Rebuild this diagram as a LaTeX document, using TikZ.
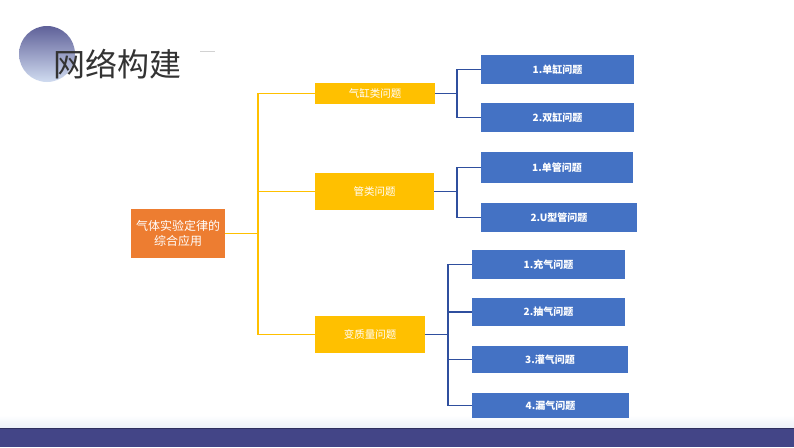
\documentclass[tikz,border=0pt]{standalone}
\usepackage{fontspec}
\newfontfamily\cjk{Noto Sans CJK SC}
\definecolor{orangebox}{HTML}{ED7D31}
\definecolor{yellowbox}{HTML}{FFC000}
\definecolor{bluebox}{HTML}{4472C4}
\definecolor{blueline}{HTML}{2F4F9E}
\definecolor{barcol}{HTML}{434587}
\definecolor{titlecol}{HTML}{333333}
\begin{document}
\begin{tikzpicture}[x=1pt,y=-1pt,
  box/.style={inner sep=0pt,text=white,align=center,font=\cjk},
  obox/.style={box,fill=orangebox,font=\cjk\fontsize{12}{15}\selectfont},
  ybox/.style={box,fill=yellowbox,font=\cjk\fontsize{10.5}{13}\selectfont},
  bbox/.style={box,fill=bluebox,font=\cjk\bfseries\fontsize{10}{12}\selectfont},
  oline/.style={draw=yellowbox,line width=1.2pt},
  bline/.style={draw=blueline,line width=1.2pt}]
\useasboundingbox (0,0) rectangle (794,447);
\fill[white] (0,0) rectangle (794,447);
% header
\shade[top color=barcol!85,bottom color=bluebox!25] (47,54) circle (28);
\node[anchor=west,text=titlecol,font=\cjk\fontsize{32}{36}\selectfont,inner sep=0pt] (title) at (53,64) {网络构建};
\draw[gray!35,line width=0.8pt] (200,51) -- (215,51);
% bottom bar
\shade[top color=white,bottom color=bluebox!10] (0,415) rectangle (794,428);
\fill[barcol] (0,428) rectangle (794,447);
\draw[barcol!70!black,line width=0.8pt] (0,428) -- (794,428);
% boxes
\node[obox,minimum width=94,minimum height=49] (main) at (178,233.5) {气体实验定律的\\综合应用};
\node[ybox,minimum width=120,minimum height=21] (y1) at (375,93.5) {气缸类问题};
\node[ybox,minimum width=119,minimum height=37] (y2) at (374.5,191.5) {管类问题};
\node[ybox,minimum width=110,minimum height=37] (y3) at (370,334.5) {变质量问题};
\node[bbox,minimum width=153,minimum height=29] (b1) at (557.5,69.5) {1.单缸问题};
\node[bbox,minimum width=153,minimum height=29] (b2) at (557.5,117.5) {2.双缸问题};
\node[bbox,minimum width=152,minimum height=31] (b3) at (557,167.5) {1.单管问题};
\node[bbox,minimum width=156,minimum height=29] (b4) at (559,217.5) {2.U型管问题};
\node[bbox,minimum width=153,minimum height=29] (c1) at (548.5,264.5) {1.充气问题};
\node[bbox,minimum width=153,minimum height=28] (c2) at (548.5,312) {2.抽气问题};
\node[bbox,minimum width=156,minimum height=27] (c3) at (550,359.5) {3.灌气问题};
\node[bbox,minimum width=157,minimum height=25] (c4) at (550.5,405.5) {4.漏气问题};
% orange connectors
\coordinate (oj) at (258,233.5);
\draw[oline] (main.east) -- (oj);
\draw[oline] (y1.west) -| (oj);
\draw[oline] (y3.west) -| (oj);
\draw[oline] (y2.west) -- (y2.west -| oj);
% blue connectors
\coordinate (bj1) at (457,93.5);
\draw[bline] (y1.east) -- (bj1);
\draw[bline] (b1.west) -| (bj1);
\draw[bline] (b2.west) -| (bj1);
\coordinate (bj2) at (457,191.5);
\draw[bline] (y2.east) -- (bj2);
\draw[bline] (b3.west) -| (bj2);
\draw[bline] (b4.west) -| (bj2);
\coordinate (bj3) at (448,334.5);
\draw[bline] (y3.east) -- (bj3);
\draw[bline] (c1.west) -| (bj3);
\draw[bline] (c4.west) -| (bj3);
\draw[bline] (c2.west) -- (c2.west -| bj3);
\draw[bline] (c3.west) -- (c3.west -| bj3);
\end{tikzpicture}
\end{document}
